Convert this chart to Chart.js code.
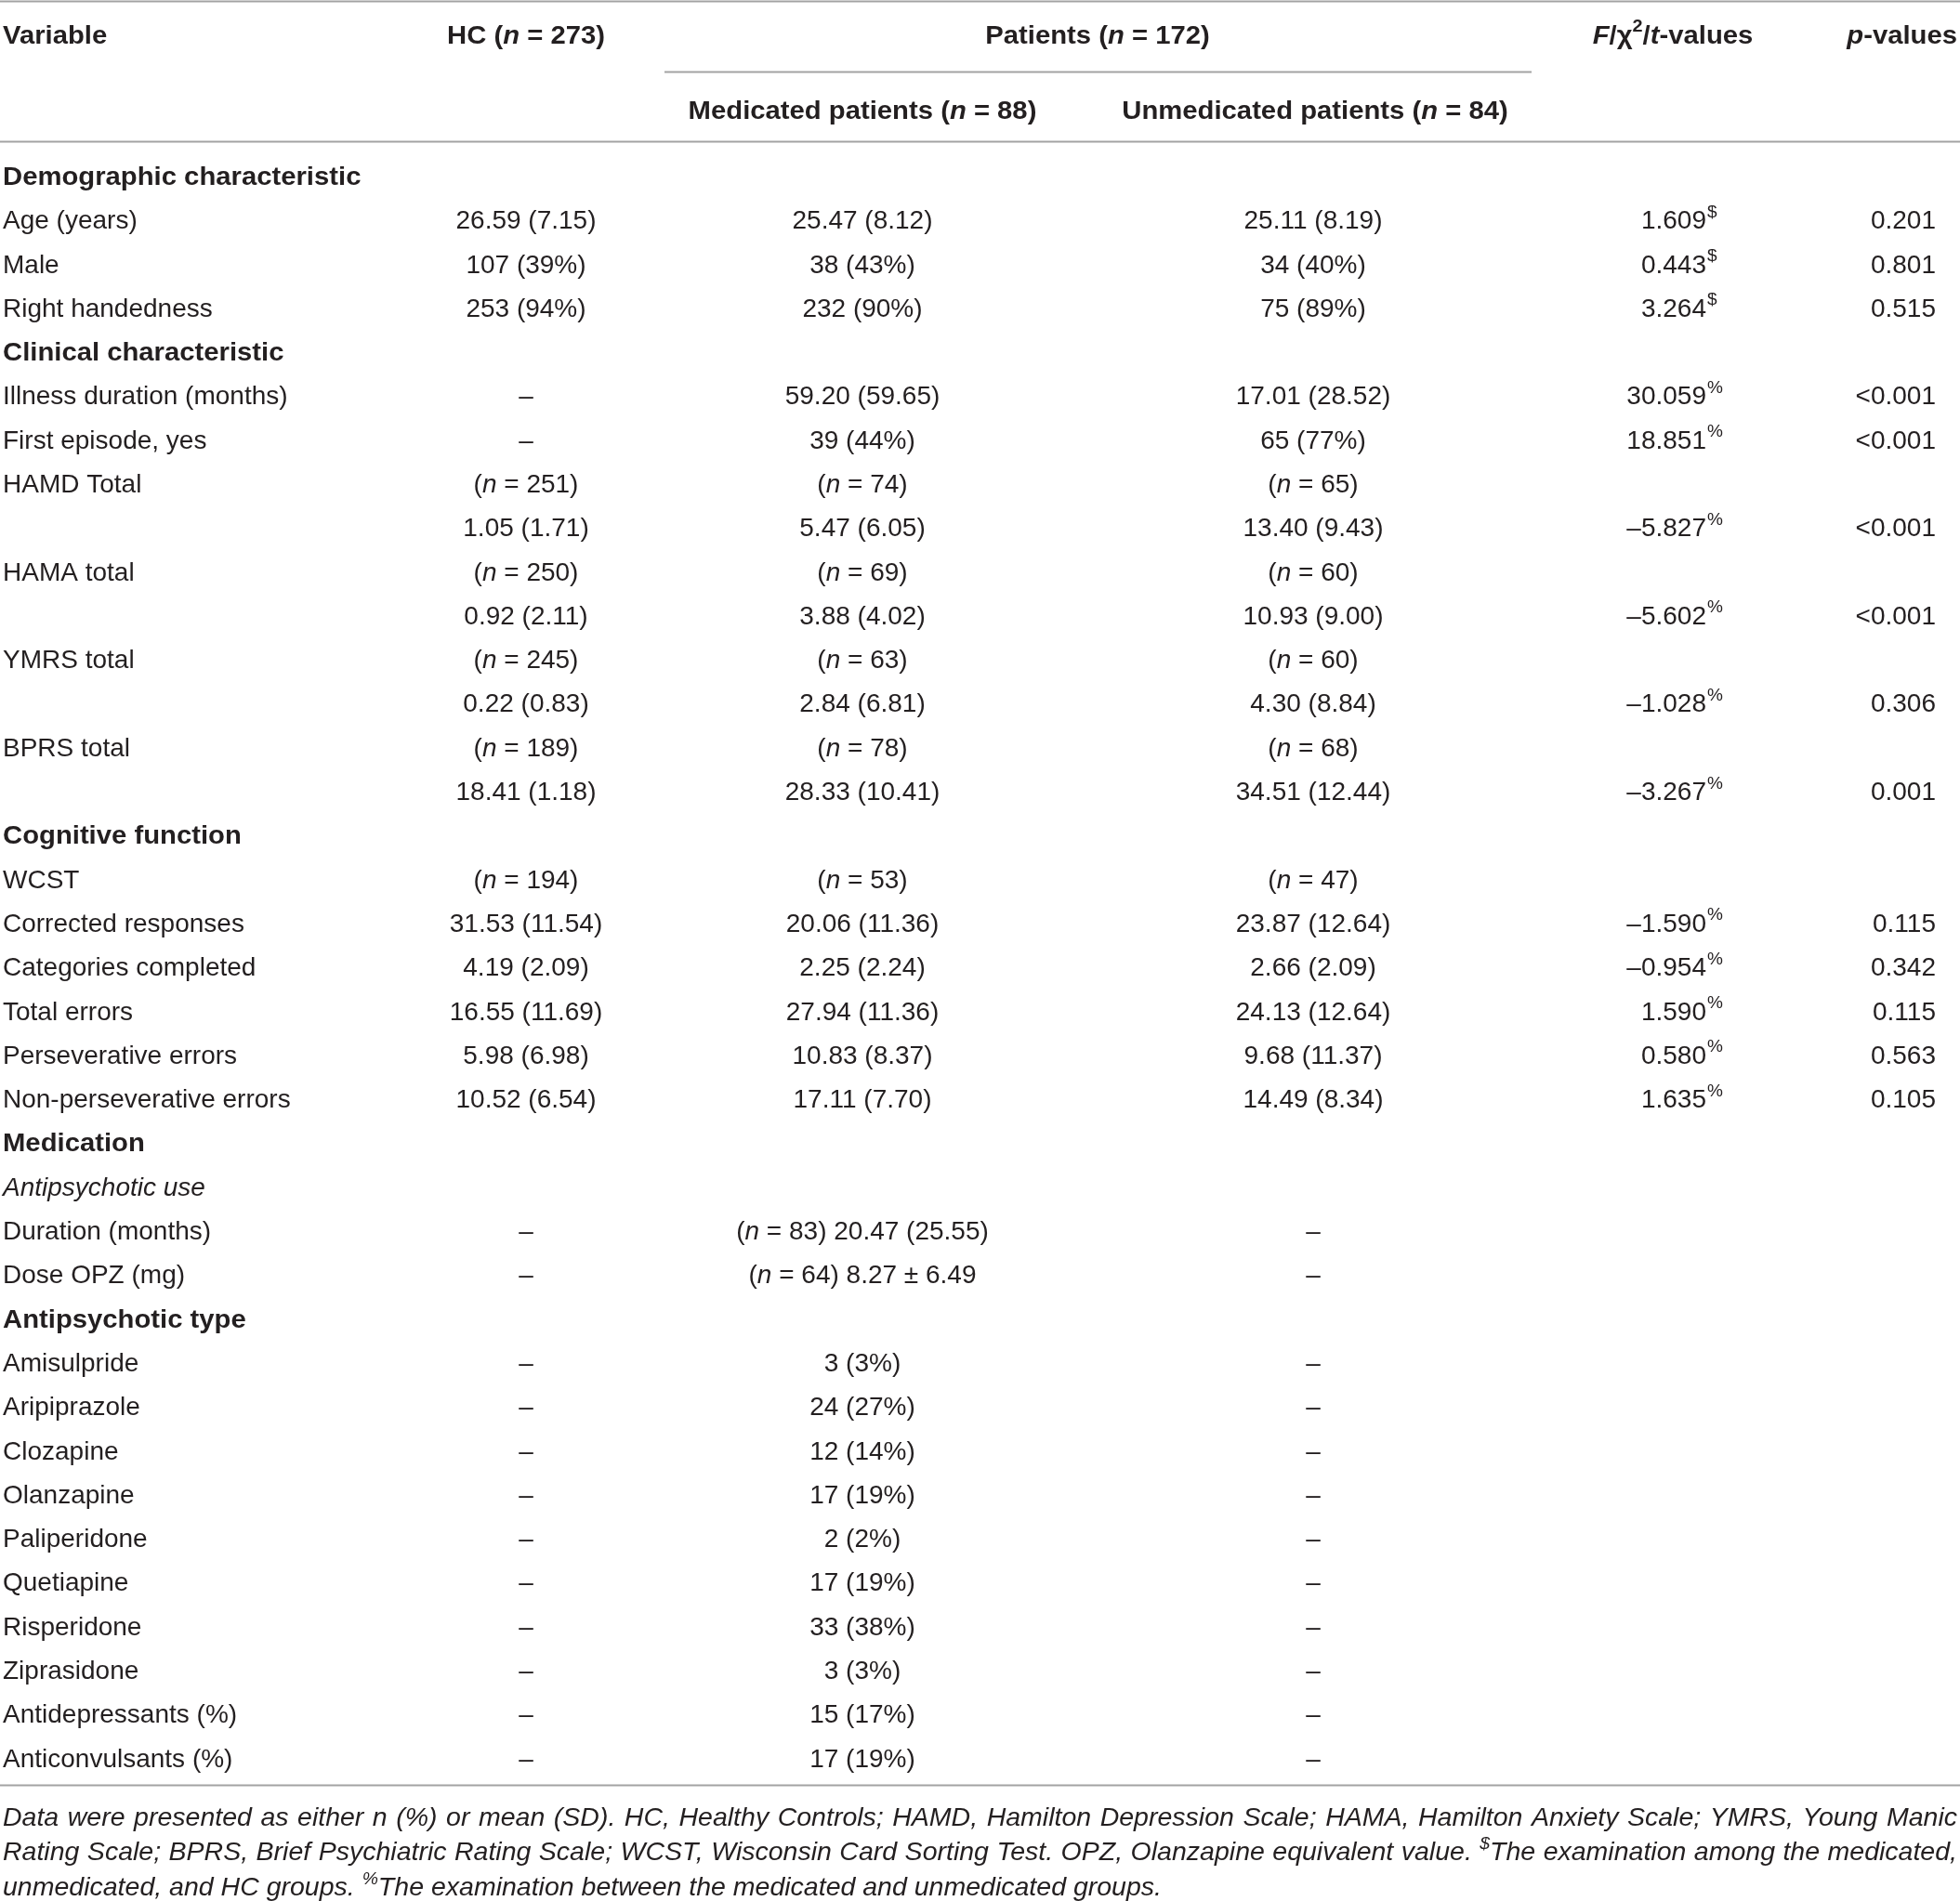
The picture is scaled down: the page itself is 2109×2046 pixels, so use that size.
<!DOCTYPE html>
<html>
<head>
<meta charset="utf-8">
<title>Table – demographic and clinical characteristics</title>
<script src="https://cdn.jsdelivr.net/npm/chart.js@4.4.0/dist/chart.umd.min.js"></script>
<style>
  html, body { margin: 0; padding: 0; background: #ffffff; overflow: hidden; }
  #wrap { width: 2109px; height: 2046px; position: relative; }
</style>
</head>
<body>
<div id="wrap"><canvas id="table"></canvas></div>
<script>
// ---- table content ----
const headerTop = ['Variable', 'HC (*n* = 273)', 'Patients (*n* = 172)', '*F*/χ^2^/*t*-values', '*p*-values'];
const headerSub = ['Medicated patients (*n* = 88)', 'Unmedicated patients (*n* = 84)'];

const rowLabels = [
  'Demographic characteristic', 'Age (years)', 'Male', 'Right handedness',
  'Clinical characteristic', 'Illness duration (months)', 'First episode, yes',
  'HAMD Total', '', 'HAMA total', '', 'YMRS total', '', 'BPRS total', '',
  'Cognitive function', 'WCST', 'Corrected responses', 'Categories completed',
  'Total errors', 'Perseverative errors', 'Non-perseverative errors',
  'Medication', 'Antipsychotic use', 'Duration (months)', 'Dose OPZ (mg)',
  'Antipsychotic type', 'Amisulpride', 'Aripiprazole', 'Clozapine', 'Olanzapine',
  'Paliperidone', 'Quetiapine', 'Risperidone', 'Ziprasidone',
  'Antidepressants (%)', 'Anticonvulsants (%)'
];
const sectionRows = [0, 4, 15, 22, 26];
const italicRows = [23];

const hcValues = [
  '', '26.59 (7.15)', '107 (39%)', '253 (94%)',
  '', '–', '–',
  '(*n* = 251)', '1.05 (1.71)', '(*n* = 250)', '0.92 (2.11)', '(*n* = 245)', '0.22 (0.83)', '(*n* = 189)', '18.41 (1.18)',
  '', '(*n* = 194)', '31.53 (11.54)', '4.19 (2.09)', '16.55 (11.69)', '5.98 (6.98)', '10.52 (6.54)',
  '', '', '–', '–',
  '', '–', '–', '–', '–', '–', '–', '–', '–', '–', '–'
];
const medValues = [
  '', '25.47 (8.12)', '38 (43%)', '232 (90%)',
  '', '59.20 (59.65)', '39 (44%)',
  '(*n* = 74)', '5.47 (6.05)', '(*n* = 69)', '3.88 (4.02)', '(*n* = 63)', '2.84 (6.81)', '(*n* = 78)', '28.33 (10.41)',
  '', '(*n* = 53)', '20.06 (11.36)', '2.25 (2.24)', '27.94 (11.36)', '10.83 (8.37)', '17.11 (7.70)',
  '', '', '(*n* = 83) 20.47 (25.55)', '(*n* = 64) 8.27 ± 6.49',
  '', '3 (3%)', '24 (27%)', '12 (14%)', '17 (19%)', '2 (2%)', '17 (19%)', '33 (38%)', '3 (3%)', '15 (17%)', '17 (19%)'
];
const unmedValues = [
  '', '25.11 (8.19)', '34 (40%)', '75 (89%)',
  '', '17.01 (28.52)', '65 (77%)',
  '(*n* = 65)', '13.40 (9.43)', '(*n* = 60)', '10.93 (9.00)', '(*n* = 60)', '4.30 (8.84)', '(*n* = 68)', '34.51 (12.44)',
  '', '(*n* = 47)', '23.87 (12.64)', '2.66 (2.09)', '24.13 (12.64)', '9.68 (11.37)', '14.49 (8.34)',
  '', '', '–', '–',
  '', '–', '–', '–', '–', '–', '–', '–', '–', '–', '–'
];
const testValues = [
  '', '1.609', '0.443', '3.264',
  '', '30.059', '18.851',
  '', '–5.827', '', '–5.602', '', '–1.028', '', '–3.267',
  '', '', '–1.590', '–0.954', '1.590', '0.580', '1.635',
  '', '', '', '',
  '', '', '', '', '', '', '', '', '', '', ''
];
const testMarks = [
  '', '$', '$', '$',
  '', '%', '%',
  '', '%', '', '%', '', '%', '', '%',
  '', '', '%', '%', '%', '%', '%',
  '', '', '', '',
  '', '', '', '', '', '', '', '', '', '', ''
];
const pValues = [
  '', '0.201', '0.801', '0.515',
  '', '<0.001', '<0.001',
  '', '<0.001', '', '<0.001', '', '0.306', '', '0.001',
  '', '', '0.115', '0.342', '0.115', '0.563', '0.105',
  '', '', '', '',
  '', '', '', '', '', '', '', '', '', '', ''
];
const footnoteLines = [
  'Data were presented as either n (%) or mean (SD). HC, Healthy Controls; HAMD, Hamilton Depression Scale; HAMA, Hamilton Anxiety Scale; YMRS, Young Manic',
  'Rating Scale; BPRS, Brief Psychiatric Rating Scale; WCST, Wisconsin Card Sorting Test. OPZ, Olanzapine equivalent value. ^$^The examination among the medicated,',
  'unmedicated, and HC groups. ^%^The examination between the medicated and unmedicated groups.'
];

// ---- layout ----
const W = 2109, H = 2046;
const ROW_MIN = -3.98, ROW_MAX = 39.28;
const TEXT_DY = 3;
const colX = [3, 566, 928, 1413, 1836, 2083];
const colAlign = ['left', 'center', 'center', 'center', 'right', 'right'];
const headTopRow = -3.22, headSubRow = -1.51;
const headTopX = [3, 566, 1181, 1800, 2106];
const headTopAlign = ['left', 'center', 'center', 'center', 'right'];
const headSubX = [928, 1415];
const footRows = [37.33, 38.13, 38.93];
const footLeft = 3, footRight = 2106, footLastEnd = 1250;
const FAMILY = '"Liberation Sans", Arial, sans-serif';
const INK = '#231f20';
const RULE = '#a3a3a3';
const bodyFont = { size: 28, weight: 'normal', italic: false, sx: 1.0 };
const boldFont = { size: 28, weight: 'bold', italic: false, sx: 1.045 };
const noteFont = { size: 28, weight: 'normal', italic: true, sx: 1.0 };

function parseRich(s) {
  const parts = [];
  const re = /\*([^*]+)\*|\^([^^]+)\^|([^*^]+)/g;
  let m;
  while ((m = re.exec(s))) {
    if (m[1]) parts.push({ t: m[1], st: 'i' });
    else if (m[2]) parts.push({ t: m[2], st: 'sup' });
    else parts.push({ t: m[3], st: 'n' });
  }
  return parts;
}

function fontFor(st, f) {
  const it = (f.italic || st === 'i') ? 'italic ' : '';
  const size = st === 'sup' ? Math.round(f.size * 0.68) : f.size;
  return it + f.weight + ' ' + size + 'px ' + FAMILY;
}

function richWidth(ctx, s, f) {
  let w = 0;
  parseRich(s).forEach(p => {
    ctx.font = fontFor(p.st, f);
    w += ctx.measureText(p.t).width * f.sx;
  });
  return w;
}

function drawRich(ctx, s, x, y, align, f) {
  const w = richWidth(ctx, s, f);
  let cx = align === 'left' ? x : align === 'right' ? x - w : x - w / 2;
  parseRich(s).forEach(p => {
    ctx.font = fontFor(p.st, f);
    const dy = p.st === 'sup' ? -f.size * 0.36 : 0;
    ctx.save();
    ctx.translate(cx, y + dy + TEXT_DY);
    ctx.scale(f.sx, 1);
    ctx.fillText(p.t, 0, 0);
    ctx.restore();
    cx += ctx.measureText(p.t).width * f.sx;
  });
  return cx;
}

function drawJustified(ctx, line, x0, x1, y, f) {
  const words = line.split(' ');
  let widths = words.map(w => richWidth(ctx, w, f));
  let total = widths.reduce((a, b) => a + b, 0);
  let g = f;
  const minGap = f.size * 0.22;
  if (x1 - x0 - total < minGap * (words.length - 1)) {
    g = Object.assign({}, f, { sx: f.sx * (x1 - x0 - minGap * (words.length - 1)) / total });
    widths = words.map(w => richWidth(ctx, w, g));
    total = widths.reduce((a, b) => a + b, 0);
  }
  const gap = (x1 - x0 - total) / (words.length - 1);
  let cx = x0;
  words.forEach((w, i) => {
    drawRich(ctx, w, cx, y, 'left', g);
    cx += widths[i] + gap;
  });
}

const columns = [rowLabels, hcValues, medValues, unmedValues, testValues, pValues];

const tablePlugin = {
  id: 'tableText',
  beforeDraw(chart) {
    const ctx = chart.ctx;
    ctx.save();
    ctx.fillStyle = '#ffffff';
    ctx.fillRect(0, 0, chart.width, chart.height);
    ctx.restore();
  },
  afterDatasetsDraw(chart) {
    const ctx = chart.ctx;
    const xs = chart.scales.x, ys = chart.scales.y;
    ctx.save();

    // rules
    ctx.strokeStyle = RULE;
    ctx.lineWidth = 2;
    const rule = (row, xa, xb) => {
      const py = Math.round(ys.getPixelForValue(row)) + 0.5;
      ctx.beginPath();
      ctx.moveTo(xs.getPixelForValue(xa), py);
      ctx.lineTo(xs.getPixelForValue(xb), py);
      ctx.stroke();
    };
    rule(-3.96, 0, W);
    rule(-2.352, 715, 1648);
    rule(-0.766, 0, W);
    rule(36.637, 0, W);

    ctx.fillStyle = INK;
    ctx.textBaseline = 'middle';

    // header
    headerTop.forEach((t, i) => {
      drawRich(ctx, t, xs.getPixelForValue(headTopX[i]), ys.getPixelForValue(headTopRow), headTopAlign[i], boldFont);
    });
    headerSub.forEach((t, i) => {
      drawRich(ctx, t, xs.getPixelForValue(headSubX[i]), ys.getPixelForValue(headSubRow), 'center', boldFont);
    });

    // body cells: one dataset per column, one point per filled cell
    chart.data.datasets.forEach((ds, c) => {
      const meta = chart.getDatasetMeta(c);
      meta.data.forEach((el, j) => {
        const r = ds.data[j].y;
        const txt = columns[c][r];
        let f = bodyFont;
        if (c === 0 && sectionRows.includes(r)) f = boldFont;
        if (c === 0 && italicRows.includes(r)) f = Object.assign({}, bodyFont, { italic: true });
        if (c === 4) {
          drawRich(ctx, txt, el.x, el.y, 'right', f);
          if (testMarks[r]) drawRich(ctx, '^' + testMarks[r] + '^', el.x + 1, el.y, 'left', f);
        } else {
          drawRich(ctx, txt, el.x, el.y, colAlign[c], f);
        }
      });
    });

    // footnote: last line sets the letter width, the others are justified
    const x0 = xs.getPixelForValue(footLeft), x1 = xs.getPixelForValue(footRight);
    const lastLine = footnoteLines[footnoteLines.length - 1];
    const nf = Object.assign({}, noteFont);
    nf.sx = noteFont.sx * (xs.getPixelForValue(footLastEnd) - x0) / richWidth(ctx, lastLine, noteFont);
    footnoteLines.forEach((line, i) => {
      const py = ys.getPixelForValue(footRows[i]);
      if (i < footnoteLines.length - 1) {
        drawJustified(ctx, line, x0, x1, py, nf);
      } else {
        drawRich(ctx, line, x0, py, 'left', nf);
      }
    });
    ctx.restore();
  }
};

new Chart(document.getElementById('table'), {
  type: 'scatter',
  data: {
    datasets: columns.map((col, c) => ({
      label: 'col' + c,
      data: col.map((t, r) => (t ? { x: colX[c], y: r } : null)).filter(Boolean),
      pointRadius: 0,
      pointHoverRadius: 0,
      showLine: false
    }))
  },
  options: {
    responsive: true,
    maintainAspectRatio: false,
    animation: false,
    events: [],
    layout: { padding: 0 },
    plugins: {
      legend: { display: false },
      tooltip: { enabled: false }
    },
    scales: {
      x: { type: 'linear', display: false, min: 0, max: W },
      y: { type: 'linear', display: false, reverse: true, min: ROW_MIN, max: ROW_MAX }
    }
  },
  plugins: [tablePlugin]
});
</script>
</body>
</html>
